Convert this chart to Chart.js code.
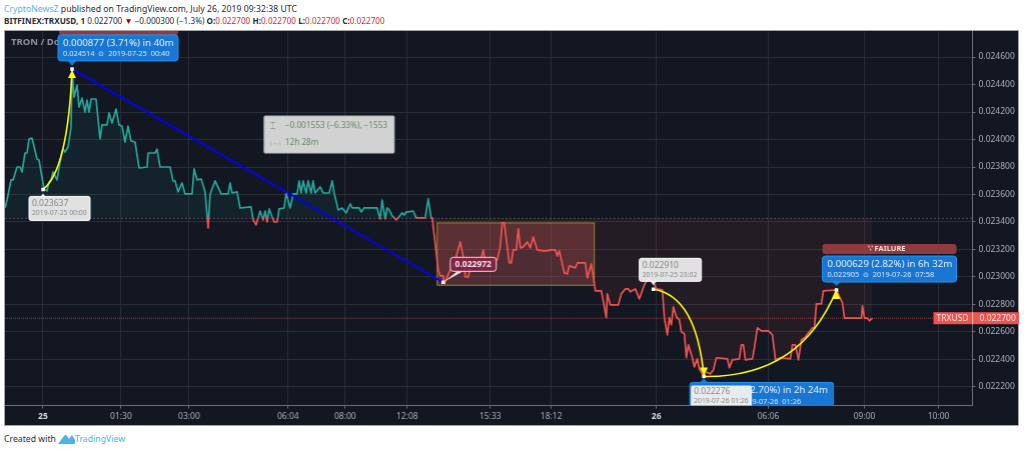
<!DOCTYPE html>
<html>
<head>
<meta charset="utf-8">
<script src="https://cdn.jsdelivr.net/npm/chart.js@4"></script>
<style>
  html, body { margin: 0; background: #fff; }
  body { width: 1024px; height: 452px; position: relative; overflow: hidden; font-family: "Noto Sans", sans-serif; }
  .txt { position: absolute; white-space: nowrap; color: #2a2e39; font-size: 8.7px; line-height: 12px; }
  .blue { color: #4fb3e8; }
  .red { color: #d32f2f; }
  #frame { position: absolute; left: 4px; top: 30px; width: 1015px; height: 396px; box-sizing: border-box; border: 1px solid #a6a6a6; background: #131722; }
  #wrap { position: absolute; left: 5px; top: 31px; width: 1013.5px; height: 394.5px; }
</style>
</head>
<body>
<div class="txt" style="left:4px;top:3px"><span class="blue">CryptoNewsZ</span> published on TradingView.com, July 26, 2019 09:32:38 UTC</div>
<div class="txt" style="left:4px;top:15px;font-size:8.2px"><b>BITFINEX:TRXUSD, 1</b>&nbsp;0.022700 <span style="color:#8b0000">▼</span> −0.000300 (−1.3%) <b>O:</b><span class="red">0.022700</span> <b>H:</b><span class="red">0.022700</span> <b>L:</b><span class="red">0.022700</span> <b>C:</b><span class="red">0.022700</span></div>
<div id="frame"></div>
<div id="wrap"><canvas id="myChart"></canvas></div>
<div class="txt" style="left:4px;top:433px">Created with</div>
<svg style="position:absolute;left:58px;top:433px" width="17" height="12" viewBox="0 0 17 12"><path d="M0 11 L6 3 Q7 1 9 3 L11 6 L14 2 L17 7 L17 11 Z" fill="#4fb3e8"/></svg>
<div class="txt blue" style="left:75px;top:433px">TradingView</div>

<script>
// bar number counted from the 25th 00:00, one bar is about one pixel
var priceBars = [-38,-36,-32,-30,-26,-23,-21,-18,-16,-14,-11,-6,-4,1,4,6,8,10,14,16,19,20,22,25,28,29,31,34,36,39,42,44,46,48,53,57,59,64,66,69,73,76,79,82,85,88,92,96,104,105,112,114,117,127,130,132,135,139,142,149,151,154,158,162,165,167,172,178,185,187,189,194,197,208,210,213,217,220,222,224,226,231,234,236,241,243,247,250,254,256,258,260,263,265,268,270,272,277,280,286,289,291,295,299,303,307,309,316,318,321,334,337,339,342,344,346,349,353,359,361,363,365,370,373,382,385,388,389,395,397,400,401,407,412,417,420,422,425,429,433,437,440,442,454,457,459,461,466,468,470,473,475,477,480,484,487,490,494,500,504,507,512,514,516,521,524,526,532,534,542,544,548,552,558,563,564,567,575,578,582,585,587,592,596,601,605,610,613,619,621,624,626,628,630,633,636,638,641,643,645,649,651,654,656,660.5,662,667,670,673,684,686,689,696,698,700,702,709,711,714,718,725,729,732,737,747,749,752,755,758,762,769,771,773,778,780,793,799,801,818,819,821,824,826,829];
var priceValues = [0.023502,0.023560,0.023706,0.023706,0.023800,0.023800,0.023764,0.023902,0.023902,0.024004,0.024011,0.023858,0.023851,0.023640,0.023626,0.023691,0.023706,0.023764,0.023706,0.023793,0.023909,0.023931,0.023909,0.023946,0.024091,0.024514,0.024309,0.024396,0.024236,0.024302,0.024200,0.024287,0.024200,0.024295,0.024295,0.024004,0.024106,0.024106,0.024193,0.024120,0.024222,0.024106,0.024098,0.023982,0.024098,0.023989,0.023982,0.023793,0.023800,0.023902,0.023902,0.023931,0.023800,0.023800,0.023699,0.023699,0.023619,0.023684,0.023604,0.023604,0.023786,0.023706,0.023713,0.023619,0.023357,0.023604,0.023699,0.023604,0.023604,0.023684,0.023611,0.023619,0.023502,0.023510,0.023415,0.023379,0.023480,0.023415,0.023480,0.023400,0.023495,0.023400,0.023400,0.023495,0.023502,0.023611,0.023502,0.023604,0.023604,0.023699,0.023611,0.023699,0.023611,0.023699,0.023611,0.023699,0.023611,0.023655,0.023611,0.023611,0.023699,0.023611,0.023488,0.023502,0.023466,0.023531,0.023502,0.023502,0.023473,0.023502,0.023502,0.023422,0.023560,0.023422,0.023502,0.023488,0.023444,0.023415,0.023466,0.023451,0.023473,0.023473,0.023480,0.023430,0.023430,0.023568,0.023430,0.023430,0.023051,0.023008,0.023008,0.022950,0.023051,0.023124,0.023255,0.023146,0.023001,0.023001,0.023110,0.023139,0.023110,0.023197,0.023110,0.023124,0.023219,0.023393,0.023393,0.023102,0.023102,0.023197,0.023197,0.023350,0.023211,0.023219,0.023255,0.023211,0.023291,0.023197,0.023190,0.023190,0.023197,0.023197,0.023153,0.023190,0.023030,0.023022,0.023081,0.023066,0.023102,0.023102,0.022993,0.023095,0.022899,0.022899,0.022703,0.022877,0.022797,0.022797,0.022877,0.022913,0.022913,0.022892,0.022913,0.022841,0.022942,0.022993,0.022964,0.022913,0.022906,0.022703,0.022579,0.022703,0.022652,0.022782,0.022710,0.022688,0.022601,0.022586,0.022412,0.022506,0.022412,0.022346,0.022404,0.022332,0.022276,0.022310,0.022295,0.022324,0.022412,0.022404,0.022339,0.022397,0.022404,0.022506,0.022506,0.022397,0.022404,0.022484,0.022630,0.022608,0.022608,0.022579,0.022397,0.022412,0.022404,0.022506,0.022506,0.022397,0.022543,0.022564,0.022630,0.022630,0.022804,0.022804,0.022899,0.022905,0.022812,0.022700,0.022700,0.022790,0.022700,0.022700,0.022681,0.022700];

var xTickBars = [0,78,146,245,302,364,447,508,613,725,821,895];
var xTickLabels = ["25","01:30","03:00","06:04","08:00","12:08","15:33","18:12","26","06:06","09:00","10:00"];
var yTickValues = [0.0222,0.0224,0.0226,0.0228,0.0230,0.0232,0.0234,0.0236,0.0238,0.0240,0.0242,0.0244,0.0246];

var baseValue = 0.023426;
var lastPrice = 0.0227;

// drawn tools: pivots, then the trend line ends and curve control points
var pivotBars = [0,29,400,610,660.5,793];
var pivotValues = [0.023637,0.024514,0.022961,0.022910,0.022276,0.022905];
var trendBars = [29,400];
var trendValues = [0.024514,0.022961];
var curveControlBars = [25,653,757];
var curveControlValues = [0.023778,0.022862,0.022266];
var boxBars = [394,551];
var boxValues = [0.023393,0.022940];

var xMin = -38, xMax = 929, yMin = 0.022064, yMax = 0.024789;

var TEAL = '#26a69a', RED = '#ef5350', FONT = '"Noto Sans", sans-serif';

function splitColor(ctx) {
  var chart = ctx.chart, a = chart.chartArea;
  if (!a) return TEAL;
  var g = chart.ctx.createLinearGradient(0, a.top, 0, a.bottom);
  var stop = (chart.scales.y.getPixelForValue(baseValue) - a.top) / (a.bottom - a.top);
  g.addColorStop(0, TEAL);
  g.addColorStop(stop, TEAL);
  g.addColorStop(stop, RED);
  g.addColorStop(1, RED);
  return g;
}
function isDayTick(ctx) {
  return ctx.tick && (ctx.tick.value === 0 || ctx.tick.value === 613);
}

function rrect(c, x, y, w, h, r, fill, stroke) {
  c.beginPath();
  c.roundRect(x, y, w, h, r);
  if (fill) { c.fillStyle = fill; c.fill(); }
  if (stroke) { c.strokeStyle = stroke; c.lineWidth = 1; c.stroke(); }
}
function text(c, str, x, y, size, color, align, bold) {
  c.font = (bold ? 'bold ' : '') + size + 'px ' + FONT;
  c.fillStyle = color;
  c.textAlign = align || 'left';
  c.textBaseline = 'middle';
  c.fillText(str, x, y);
}
function tri(c, x1, y1, x2, y2, x3, y3, fill) {
  c.beginPath();
  c.moveTo(x1, y1); c.lineTo(x2, y2); c.lineTo(x3, y3); c.closePath();
  c.fillStyle = fill;
  c.fill();
}
function greyLabel(c, left, top, w, h, l1, l2) {
  rrect(c, left, top, w, h, 2, 'rgba(236,236,236,0.95)', '#ffffff');
  text(c, l1, left + 3, top + 7, 8.5, '#8a8a8a');
  text(c, l2, left + 3, top + 17, 6.8, '#8a8a8a');
}
function blueLabel(c, left, top, w, h, l1, l2) {
  rrect(c, left, top, w, h, 3, '#1976d2', '#2196f3');
  text(c, l1, left + 5, top + 8, 9.7, '#e6f2ff');
  text(c, l2, left + 5, top + 19, 7.4, '#d6e8ff');
}

var toolsPlugin = {
  id: 'tools',
  beforeDatasetsDraw: function (chart) {
    var c = chart.ctx, x = chart.scales.x, y = chart.scales.y;
    // yellow box behind the price line
    var l = x.getPixelForValue(boxBars[0]), r = x.getPixelForValue(boxBars[1]);
    var t = y.getPixelForValue(boxValues[0]), b = y.getPixelForValue(boxValues[1]);
    c.save();
    c.fillStyle = 'rgba(190,85,85,0.34)';
    c.fillRect(l, t, r - l, b - t);
    c.strokeStyle = '#9c8a2e';
    c.lineWidth = 1;
    c.strokeRect(l, t, r - l, b - t);
    c.restore();
  },
  afterDatasetDraw: function (chart, args) {
    if (args.index !== 1) return;
    var c = chart.ctx, x = chart.scales.x, y = chart.scales.y;
    var runs = [[0, 1, 0], [3, 4, 1], [4, 5, 2]];
    c.save();
    runs.forEach(function (run) {
      var x0 = x.getPixelForValue(pivotBars[run[0]]), y0 = y.getPixelForValue(pivotValues[run[0]]);
      var x1 = x.getPixelForValue(pivotBars[run[1]]), y1 = y.getPixelForValue(pivotValues[run[1]]);
      var cx = x.getPixelForValue(curveControlBars[run[2]]), cy = y.getPixelForValue(curveControlValues[run[2]]);
      c.beginPath();
      c.moveTo(x0, y0);
      c.quadraticCurveTo(cx, cy, x1, y1);
      c.strokeStyle = '#ffff00';
      c.lineWidth = 1.6;
      c.stroke();
      var dir = y1 < y0 ? 1 : -1;
      tri(c, x1, y1 + dir, x1 - 4, y1 + dir * 9, x1 + 4, y1 + dir * 9, '#ffff00');
    });
    c.restore();
  },
  afterDatasetsDraw: function (chart) {
    var c = chart.ctx, x = chart.scales.x, y = chart.scales.y, a = chart.chartArea;
    var px = pivotBars.map(function (v) { return x.getPixelForValue(v); });
    var py = pivotValues.map(function (v) { return y.getPixelForValue(v); });
    c.save();
    c.beginPath();
    c.rect(a.left, a.top, a.right - a.left, a.bottom - a.top);
    c.clip();

    text(c, 'TRON / Dollar', a.left + 6, a.top + 11, 9.5, '#8f929b', 'left', true);

    // top callout, its tag runs off the top of the pane
    rrect(c, px[1] - 13, a.top - 6, 119, 10, 2, '#8e3a3f');
    tri(c, px[1] - 4, py[1] - 8, px[1] + 4, py[1] - 8, px[1], py[1] - 3, '#1976d2');
    blueLabel(c, px[1] - 14, py[1] - 34, 120, 26, '0.000877 (3.71%) in 40m', '0.024514  ⊙  2019-07-25  00:40');

    tri(c, px[0] - 3, py[0] + 8, px[0] + 3, py[0] + 8, px[0], py[0] + 4, '#eeeeee');
    greyLabel(c, px[0] - 14, py[0] + 7, 61, 24, '0.023637', '2019-07-25 00:00');

    // measure box
    var mx = x.getPixelForValue(221), my = y.getPixelForValue(0.024171);
    rrect(c, mx, my, 130, 37, 1, '#d2d2d2', '#b8b8b8');
    text(c, '⌶', mx + 6, my + 10, 9, '#9a9a9a');
    text(c, '−0.001553 (−6.33%), −1553', mx + 21, my + 10, 8.2, '#5f8f62');
    text(c, '|↔|', mx + 5, my + 27, 6, '#9a9a9a');
    text(c, '12h 28m', mx + 21, my + 27, 8.2, '#5f8f62');

    // pink price note
    c.beginPath();
    c.moveTo(px[2], py[2]); c.lineTo(px[2] + 14, py[2] - 11); c.lineTo(px[2] + 20, py[2] - 11); c.closePath();
    c.fillStyle = '#f3d9df';
    c.fill();
    rrect(c, px[2] + 7, py[2] - 25, 46, 14, 3, 'rgba(135,35,70,0.92)', '#f0d6dc');
    text(c, '0.022972', px[2] + 30, py[2] - 18, 8.5, '#f4e6ea', 'center', true);

    tri(c, px[3] - 3, py[3] - 8, px[3] + 3, py[3] - 8, px[3], py[3] - 4, '#eeeeee');
    greyLabel(c, px[3] - 14, py[3] - 31, 62, 23, '0.022910', '2019-07-25 23:02');

    // low callout hides behind its grey label
    c.save();
    c.beginPath();
    c.rect(px[4] - 15, py[4] + 4, 145, 30);
    c.clip();
    rrect(c, px[4] - 14, py[4] + 6, 144, 30, 3, '#1976d2', '#2196f3');
    text(c, '−0.000634 (−2.70%) in 2h 24m', px[4] + 124, py[4] + 14, 9.7, '#e6f2ff', 'right');
    text(c, '0.022276  ⊙  2019-07-26  01:26', px[4] + 97, py[4] + 25, 7.4, '#d6e8ff', 'right');
    c.restore();
    tri(c, px[4] - 4, py[4] + 6, px[4] + 4, py[4] + 6, px[4], py[4] + 2, '#1976d2');
    rrect(c, px[4] - 13, py[4] + 9, 61, 30, 2, 'rgba(238,238,238,0.97)');
    text(c, '0.022276', px[4] - 10, py[4] + 15, 8.5, '#8a8a8a');
    text(c, '2019-07-26 01:26', px[4] - 10, py[4] + 25, 6.8, '#8a8a8a');

    // failure callout
    rrect(c, px[5] - 14, py[5] - 46, 134, 10, 3, '#8e3a3f');
    text(c, '∵ FAILURE', px[5] + 50, py[5] - 41, 7.5, '#f2dede', 'center', true);
    tri(c, px[5] - 4, py[5] - 8, px[5] + 4, py[5] - 8, px[5], py[5] - 4, '#1976d2');
    blueLabel(c, px[5] - 14, py[5] - 34, 134, 26, '0.000629 (2.82%) in 6h 32m', '0.022905  ⊙  2019-07-26  07:58');
    c.restore();

    // series name and last value on the axis
    var ty = y.getPixelForValue(lastPrice);
    c.save();
    c.fillStyle = RED;
    c.fillRect(a.right - 39, ty - 6, 86, 12);
    text(c, 'TRXUSD', a.right - 4, ty, 8.5, '#fbe4e4', 'right');
    text(c, '0.022700', a.right + 7, ty, 8.5, '#fbe4e4');
    c.fillStyle = '#ffffff';
    c.fillRect(a.right, ty - 6, 0.6, 12);
    c.restore();
  }
};

var myChart = new Chart(document.getElementById('myChart'), {
  type: 'line',
  plugins: [toolsPlugin],
  data: {
    datasets: [
      {
        label: 'TRXUSD',
        data: priceBars.map(function (b, i) { return { x: b, y: priceValues[i] }; }),
        borderColor: splitColor,
        borderWidth: 1.7,
        borderJoinStyle: 'round',
        pointRadius: 0,
        tension: 0,
        fill: { target: { value: baseValue }, above: 'rgba(38,166,154,0.08)', below: 'rgba(239,83,80,0.08)' },
        order: 5
      },
      {
        label: 'trend',
        data: trendBars.map(function (b, i) { return { x: b, y: trendValues[i] }; }),
        borderColor: '#0000ff',
        borderWidth: 1.8,
        pointRadius: 0,
        order: 2
      },
      {
        label: 'base',
        data: [{ x: xMin, y: baseValue }, { x: xMax, y: baseValue }],
        borderColor: '#4a4e59',
        borderWidth: 1,
        borderDash: [2, 2],
        pointRadius: 0,
        order: 7
      },
      {
        label: 'last',
        data: [{ x: xMin, y: lastPrice }, { x: xMax, y: lastPrice }],
        borderColor: 'rgba(239,83,80,0.65)',
        borderWidth: 1,
        borderDash: [1, 1],
        pointRadius: 0,
        order: 6
      },
      {
        label: 'pivots',
        data: pivotBars.map(function (b, i) { return { x: b, y: pivotValues[i] }; }),
        showLine: false,
        pointStyle: 'rect',
        pointRadius: 2.5,
        pointBackgroundColor: '#ffffff',
        pointBorderWidth: 0,
        order: 1
      }
    ]
  },
  options: {
    responsive: true,
    maintainAspectRatio: false,
    animation: false,
    layout: { padding: 0, autoPadding: false },
    plugins: { legend: { display: false }, tooltip: { enabled: false } },
    scales: {
      x: {
        type: 'linear',
        bounds: 'data',
        min: xMin,
        max: xMax,
        afterBuildTicks: function (s) { s.ticks = xTickBars.map(function (v) { return { value: v }; }); },
        afterFit: function (s) { s.height = 20; },
        grid: { color: '#2a2e39', lineWidth: 1, tickLength: 3, tickColor: '#6a6d78' },
        border: { color: '#6a6d78' },
        ticks: {
          maxRotation: 0,
          autoSkip: false,
          padding: 3,
          color: function (ctx) { return isDayTick(ctx) ? '#d8dae0' : '#a9acb5'; },
          font: function (ctx) {
            return { family: FONT, size: 8.5, weight: isDayTick(ctx) ? 'bold' : 'normal' };
          },
          callback: function (v) { return xTickLabels[xTickBars.indexOf(v)]; }
        }
      },
      y: {
        position: 'right',
        bounds: 'data',
        min: yMin,
        max: yMax,
        afterBuildTicks: function (s) { s.ticks = yTickValues.map(function (v) { return { value: v }; }); },
        afterFit: function (s) { s.width = 47; },
        grid: { color: '#2a2e39', lineWidth: 1, tickLength: 3, tickColor: '#6a6d78' },
        border: { color: '#6a6d78' },
        ticks: {
          padding: 3,
          color: '#a9acb5',
          font: { family: FONT, size: 8.5 },
          callback: function (v) { return v.toFixed(6); }
        }
      }
    }
  }
});

// the scales leave room above the plot, so pull the canvas up until the pane starts at the frame
var wrap = document.getElementById('wrap');
var shift = myChart.chartArea.top;
wrap.style.top = (31 - shift) + 'px';
wrap.style.height = (394.5 + shift) + 'px';
myChart.resize();
</script>
</body>
</html>
